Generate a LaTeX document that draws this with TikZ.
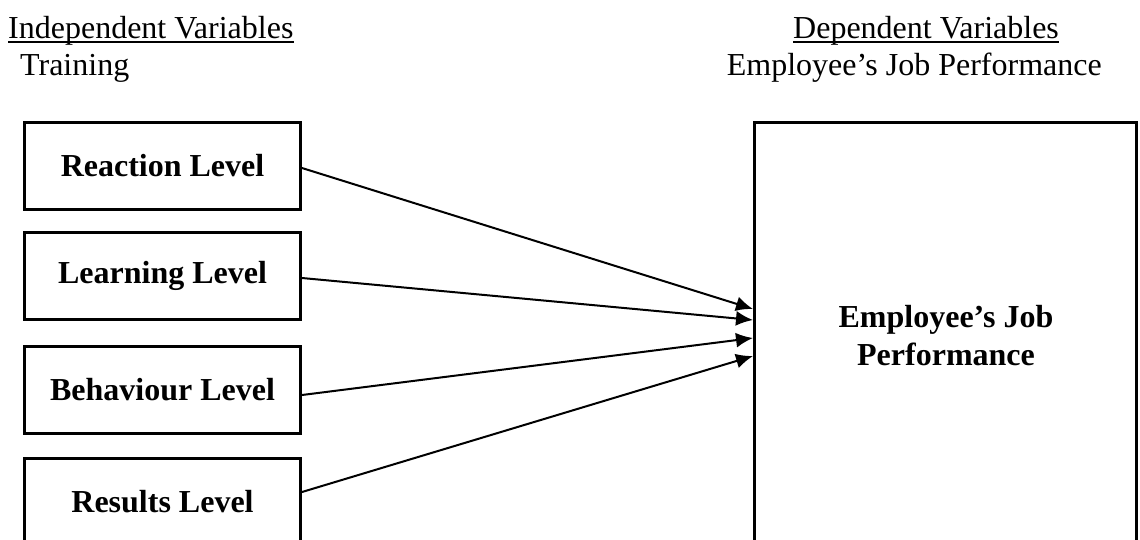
\documentclass[tikz,border=0pt]{standalone}
\usepackage{fontspec}
\setmainfont{Liberation Serif}
\usetikzlibrary{arrows.meta,calc}
\begin{document}
\begin{tikzpicture}[x=1pt,y=-1pt,
  lvl/.style={draw, line width=3pt, minimum width=276pt, minimum height=87pt, inner sep=0pt,
    font=\fontsize{32}{38}\selectfont\bfseries},
  bigbox/.style={draw, line width=3pt, minimum width=382pt, minimum height=440pt, inner sep=0pt},
  hdr/.style={inner sep=0pt, font=\fontsize{32}{38}\selectfont},
  uline/.style={line width=2pt},
  biglabel/.style={inner sep=0pt, align=center, font=\fontsize{32}{38}\selectfont\bfseries},
  link/.style={line width=2pt, -{Latex[length=17pt,width=15pt]}}]
\useasboundingbox (0,0) rectangle (1140,539);
\clip (0,0) rectangle (1140,539);
\node[hdr, anchor=base west] (iv) at (8,38) {Independent Variables};
\node[hdr, anchor=base west] (tr) at (20,75) {Training};
\node[hdr, anchor=base west] (dv) at (793,38) {Dependent Variables};
\node[hdr, anchor=base east] (ejp) at (1102,75) {Employee’s Job Performance};
\draw[uline] ($(iv.base west)+(0,3.5)$) -- ($(iv.base east)+(0,3.5)$);
\draw[uline] ($(dv.base west)+(0,3.5)$) -- ($(dv.base east)+(0,3.5)$);
\node[lvl] (reaction) at (162.5,166) {Reaction Level};
\node[lvl] (learning) at (162.5,276) {Learning Level};
\node[lvl] (behaviour) at (162.5,389.5) {Behaviour Level};
\node[lvl] (results) at (162.5,502) {Results Level};
\node[bigbox, anchor=north west] (perf) at (753,121) {};
\node[biglabel] (perflabel) at (946,336) {Employee’s Job\\Performance};
\coordinate (t1) at ($(perf.north west)+(0,188)$);
\coordinate (t2) at ($(perf.north west)+(0,199)$);
\coordinate (t3) at ($(perf.north west)+(0,217)$);
\coordinate (t4) at ($(perf.north west)+(0,235)$);
\draw[link] ($(reaction.east)+(0,2)$) -- (t1);
\draw[link] ($(learning.east)+(0,2)$) -- (t2);
\draw[link] ($(behaviour.east)+(0,5.5)$) -- (t3);
\draw[link] ($(results.east)+(0,-10)$) -- (t4);
\end{tikzpicture}
\end{document}
